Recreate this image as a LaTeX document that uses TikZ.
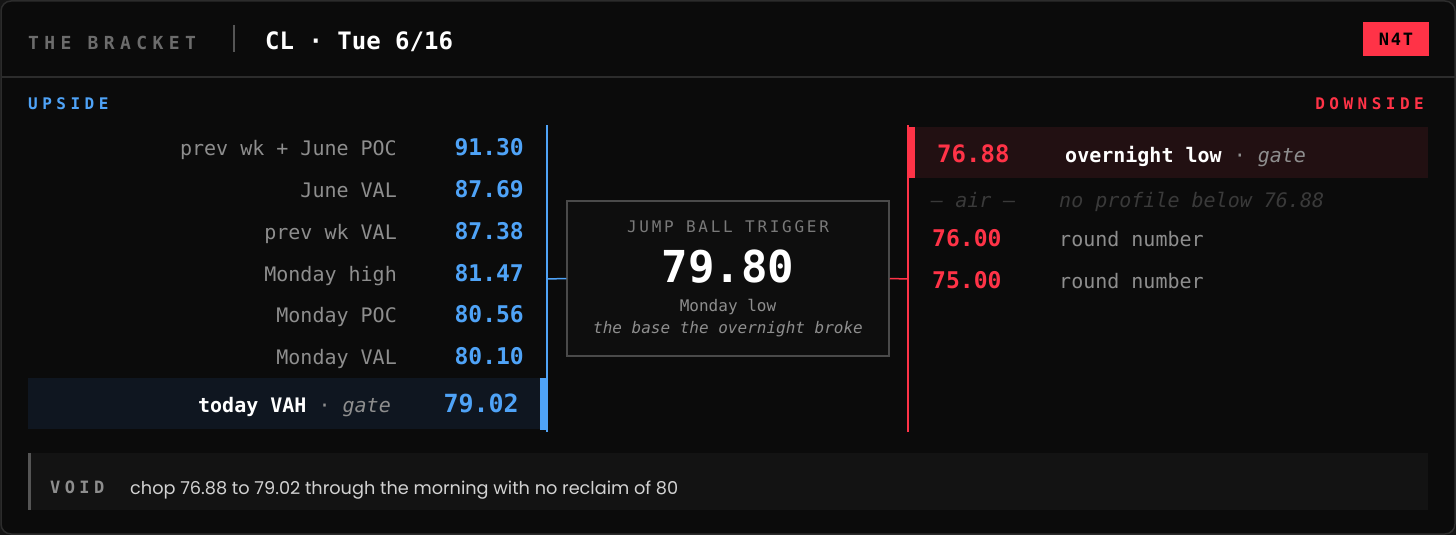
\documentclass[tikz,border=0pt]{standalone}
\usepackage{fontspec}
\setmainfont{Poppins}
\setmonofont{DejaVu Sans Mono}
\definecolor{pagebg}{HTML}{151515}
\definecolor{cardbg}{HTML}{0B0B0B}
\definecolor{cardline}{HTML}{2C2C2C}
\definecolor{upblue}{HTML}{4FA3F7}
\definecolor{dnred}{HTML}{FF3347}
\definecolor{labelgray}{HTML}{8E8E8E}
\definecolor{dimgray}{HTML}{6C6C6C}
\definecolor{airgray}{HTML}{3A3A3A}
\definecolor{upfill}{HTML}{0F1620}
\definecolor{dnfill}{HTML}{221012}
\definecolor{boxline}{HTML}{4A4A4A}
\definecolor{boxfill}{HTML}{0E0E0E}
\definecolor{voidfill}{HTML}{131313}
\definecolor{voidbar}{HTML}{555555}
\definecolor{voidtext}{HTML}{D2D2D2}
\newcommand\mono[1]{\ttfamily\fontsize{#1}{#1}\selectfont}
\newcommand\spaced[1]{\addfontfeature{LetterSpace=#1}}
\tikzset{
  txt/.style ={inner sep=0, anchor=base west},
  lbl/.style ={txt, anchor=base east, font=\mono{20}, text=labelgray},
  upval/.style ={txt, anchor=base east, font=\mono{23}\bfseries, text=upblue},
  dnval/.style ={txt, font=\mono{23}\bfseries, text=dnred},
  note/.style ={txt, font=\mono{20}, text=labelgray},
  air/.style ={txt, font=\mono{20}\itshape, text=airgray},
  caps/.style ={txt, font=\mono{16}\bfseries\spaced{28}},
  bracket/.style ={line width=1.5}
}
\begin{document}
\begin{tikzpicture}[x=1pt,y=-1pt]
\useasboundingbox (0,0) rectangle (1456,535);
\fill[pagebg] (0,0) rectangle (1456,535);
\draw[fill=cardbg, draw=cardline, line width=1.5, rounded corners=10] (1,1) rectangle (1455,534);
\draw[cardline, line width=1.2] (1,77) -- (1455,77);
\node[txt, font=\mono{18}\bfseries\spaced{30}, text=dimgray] (title) at (28,50) {THE BRACKET};
\draw[voidbar, line width=2] (234,25) -- (234,52);
\node[txt, font=\mono{24}\bfseries, text=white] (ticker) at (265,50) {CL · Tue 6/16};
\node[fill=dnred, minimum width=66, minimum height=34, inner sep=0, font=\mono{17}\bfseries\spaced{10}, text=black] (brand) at (1396,39) {N4T};
\node[caps, text=upblue] (upside) at (28,109) {UPSIDE};
\node[caps, anchor=base east, text=dnred] (downside) at (1424,109) {DOWNSIDE};
\node[lbl] (l1) at (397,155) {prev wk + June POC};
\node[upval] (v1) at (524,155) {91.30};
\node[lbl] (l2) at (397,197) {June VAL};
\node[upval] (v2) at (524,197) {87.69};
\node[lbl] (l3) at (397,239) {prev wk VAL};
\node[upval] (v3) at (524,239) {87.38};
\node[lbl] (l4) at (397,281) {Monday high};
\node[upval] (v4) at (524,281) {81.47};
\node[lbl] (l5) at (397,322) {Monday POC};
\node[upval] (v5) at (524,322) {80.56};
\node[lbl] (l6) at (397,364) {Monday VAL};
\node[upval] (v6) at (524,364) {80.10};
\fill[upfill] (28,378) rectangle (541,429);
\fill[upblue] (540,378) rectangle (546,430);
\node[lbl] (l7) at (391,412) {\textcolor{white}{\bfseries today VAH} · \textit{gate}};
\node[upval, font=\mono{25}\bfseries] (v7) at (519,412) {79.02};
\coordinate (uptop) at (547,125);
\coordinate (upmid) at (547,279);
\coordinate (upbot) at (547,432);
\draw[bracket, upblue] (uptop) -- (upbot);
\node[draw=boxline, fill=boxfill, line width=1.5, minimum width=322, minimum height=155, inner sep=0] (trigger) at (728,278.5) {};
\draw[bracket, upblue] (upmid) -- (trigger.west);
\node[txt, anchor=base, font=\mono{16}\spaced{17}, text=labelgray!85!black] (tlabel) at (728,232) {JUMP BALL TRIGGER};
\node[txt, anchor=base, font=\mono{44}\bfseries, text=white] (tprice) at (728,282) {79.80};
\node[txt, anchor=base, font=\mono{16}, text=labelgray] (tnote) at (728,311) {Monday low};
\node[txt, anchor=base, font=\mono{16}\itshape, text=labelgray] (twhy) at (728,333) {the base the overnight broke};
\coordinate (dntop) at (908,125);
\coordinate (dnmid) at (908,279);
\coordinate (dnbot) at (908,432);
\draw[bracket, dnred] (dntop) -- (dnbot);
\draw[bracket, dnred] (trigger.east) -- (dnmid);
\fill[dnfill] (908,127) rectangle (1428,178);
\fill[dnred] (908,127) rectangle (915,178);
\node[dnval, font=\mono{24}\bfseries] (d1) at (937,162) {76.88};
\node[note] (n1) at (1065,162) {\textcolor{white}{\bfseries overnight low} · \textit{gate}};
\node[air] (d2) at (931,207) {— air —};
\node[air] (n2) at (1059,207) {no profile below 76.88};
\node[dnval] (d3) at (932,246) {76.00};
\node[note] (n3) at (1059,246) {round number};
\node[dnval] (d4) at (932,288) {75.00};
\node[note] (n4) at (1059,288) {round number};
\fill[voidfill] (28,453) rectangle (1428,510);
\fill[voidbar] (28,453) rectangle (31,510);
\node[txt, font=\mono{17}\bfseries\spaced{26}, text=labelgray] (void) at (50,493) {VOID};
\node[txt, font=\fontsize{17.7}{17.7}\selectfont, text=voidtext] (voidnote) at (130,494) {chop 76.88 to 79.02 through the morning with no reclaim of 80};
\end{tikzpicture}
\end{document}
